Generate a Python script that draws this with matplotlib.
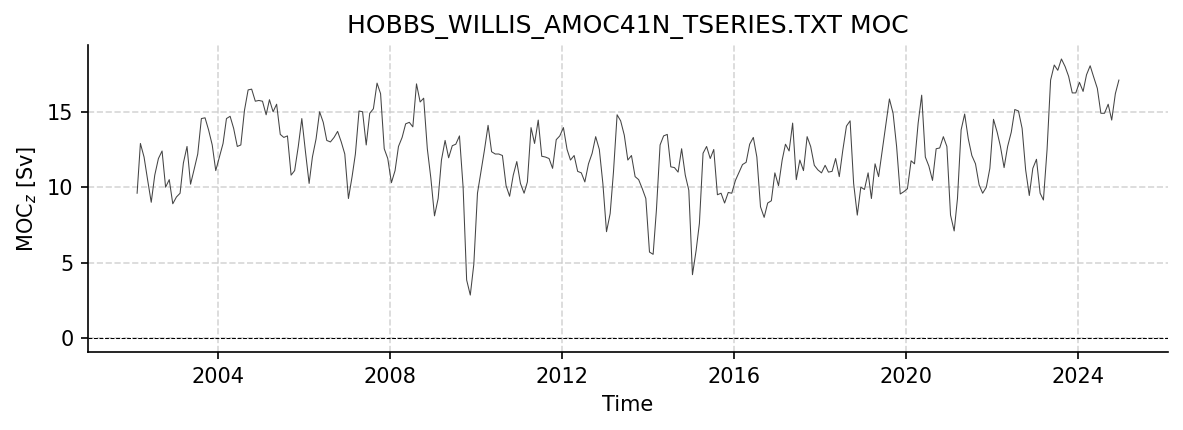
import numpy as np
import pandas as pd
import matplotlib
matplotlib.use("Agg")
import matplotlib.pyplot as plt
import matplotlib.dates as mdates
from matplotlib.ticker import MultipleLocator


# =========================================================
# DATA  (monthly, Feb 2002 - Dec 2024)
# =========================================================
START_MONTH = "2002-02"
N_MONTHS = 275

MOC_2002_2004 = [
    9.6, 12.9, 12.0, 10.5, 9.0, 10.8, 11.9, 12.4, 10.0, 10.5, 8.9, 9.35,
    9.6, 11.6, 12.7, 10.2, 11.2, 12.2, 14.55, 14.6, 13.8, 12.8, 11.1,
]
MOC_2004_2008 = [
    12.0, 12.9, 14.55, 14.7, 13.9, 12.7, 12.8, 15.1, 16.45, 16.5, 15.7, 15.75,
    15.7, 14.8, 15.8, 15.0, 15.5, 13.5, 13.3, 13.4, 10.8, 11.1, 12.7, 14.55,
    12.35, 10.25, 12.0, 13.2, 15.0, 14.3, 13.1, 13.0, 13.3, 13.7, 13.0, 12.2,
    9.25, 10.7, 12.2, 15.05, 15.0, 12.8, 14.9, 15.2, 16.9, 16.2, 12.55, 11.9,
]
MOC_2008_2012 = [
    10.3, 11.1, 12.7, 13.3, 14.2, 14.3, 14.0, 16.85, 15.65, 15.9, 12.55, 10.6,
    8.1, 9.25, 11.8, 13.1, 11.95, 12.75, 12.85, 13.4, 10.0, 3.85, 2.85, 4.9,
    9.6, 11.1, 12.45, 14.1, 12.35, 12.2, 12.2, 12.1, 10.1, 9.4, 10.8, 11.7,
    10.25, 9.6, 10.35, 13.95, 12.9, 14.45, 12.05, 12.0, 11.9, 11.25, 13.15, 13.4,
]
MOC_2012_2016 = [
    13.95, 12.5, 11.8, 12.1, 11.05, 10.95, 10.35, 11.55, 12.25, 13.35, 12.5, 10.25,
    7.05, 8.25, 11.0, 14.8, 14.4, 13.45, 11.8, 12.1, 10.7, 10.5, 9.9, 9.25,
    5.7, 5.55, 8.5, 12.8, 13.4, 13.5, 11.35, 11.3, 11.0, 12.55, 10.8, 9.8,
    4.2, 5.8, 7.6, 12.25, 12.7, 11.9, 12.5, 9.5, 9.6, 8.95, 9.65, 9.6,
]
MOC_2016_2020 = [
    10.45, 11.0, 11.5, 11.65, 12.85, 13.3, 12.0, 8.7, 8.0, 8.95, 9.1, 10.95,
    10.1, 11.8, 12.85, 12.4, 14.25, 10.5, 11.8, 11.1, 13.35, 12.7, 11.45, 11.15,
    10.95, 11.45, 11.0, 11.05, 11.9, 10.7, 12.45, 14.05, 14.4, 10.25, 8.15, 10.0,
    9.85, 10.95, 9.25, 11.55, 10.7, 12.45, 14.1, 15.85, 14.9, 12.7, 9.55, 9.7,
]
MOC_2020_2024 = [
    9.9, 11.75, 11.55, 14.25, 16.1, 12.0, 11.4, 10.45, 12.55, 12.6, 13.35, 12.7,
    8.15, 7.1, 9.25, 13.8, 14.85, 13.2, 12.1, 11.55, 10.15, 9.6, 10.0, 11.25,
    14.5, 13.65, 12.7, 11.3, 12.7, 13.65, 15.15, 15.05, 13.9, 11.15, 9.45, 11.25,
    11.85, 9.6, 9.15, 12.5, 17.1, 18.1, 17.75, 18.5, 18.0, 17.35, 16.25, 16.25,
]
MOC_2024_2025 = [
    16.95, 16.35, 17.45, 18.05, 17.3, 16.55, 14.9, 14.9, 15.5, 14.45, 16.2, 17.1,
]

TITLE = "HOBBS_WILLIS_AMOC41N_TSERIES.TXT MOC"
DPI = 150


def main():
    moc = np.array(
        MOC_2002_2004 + MOC_2004_2008 + MOC_2008_2012 + MOC_2012_2016
        + MOC_2016_2020 + MOC_2020_2024 + MOC_2024_2025
    )
    time = pd.date_range(START_MONTH, periods=N_MONTHS, freq="MS") + pd.Timedelta(days=14)
    assert len(moc) == len(time)

    fig = plt.figure(figsize=(1183 / DPI, 430 / DPI), dpi=DPI)
    ax = fig.add_axes([0.0744, 0.1814, 0.9129, 0.7139])

    ax.plot(time, moc, color="#444444", linewidth=0.5)
    ax.axhline(0, color="black", linestyle="--", linewidth=0.5)

    ax.xaxis.set_major_locator(mdates.YearLocator(4))
    ax.xaxis.set_major_formatter(mdates.DateFormatter("%Y"))
    ax.yaxis.set_major_locator(MultipleLocator(5))

    ax.grid(True, linestyle="--", color="#cccccc", alpha=0.8, linewidth=0.8)
    ax.spines["top"].set_visible(False)
    ax.spines["right"].set_visible(False)

    ax.set_title(TITLE, fontsize=12)
    ax.set_xlabel("Time")
    ax.set_ylabel("MOC$_z$ [Sv]")

    fig.savefig("out.png", dpi=DPI)
    plt.close(fig)


if __name__ == "__main__":
    main()
